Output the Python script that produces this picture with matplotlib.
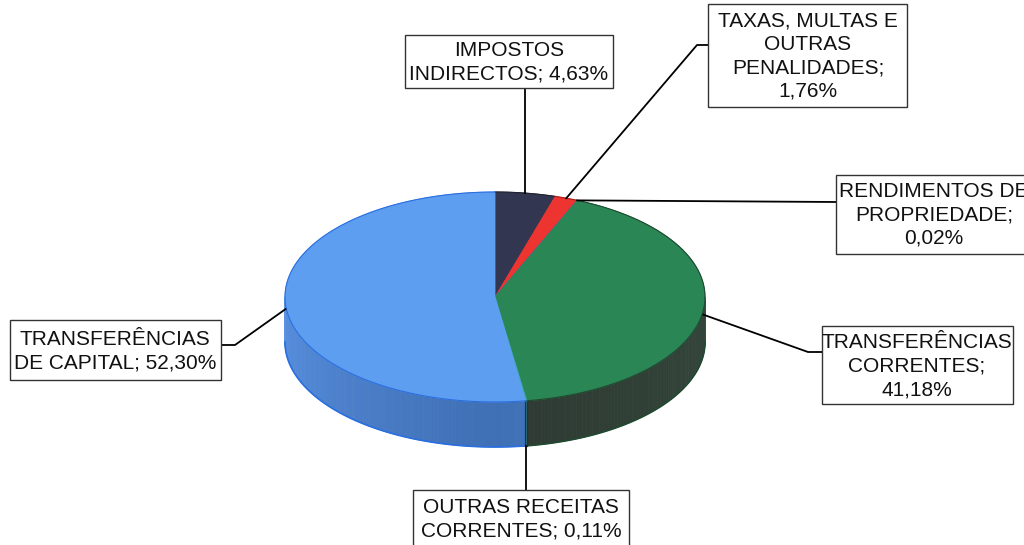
import numpy as np
import matplotlib
matplotlib.use("Agg")
import matplotlib.pyplot as plt
from matplotlib.patches import Polygon, Rectangle

# ---- data ----
categories = ["IMPOSTOS INDIRECTOS", "TAXAS, MULTAS E OUTRAS PENALIDADES",
              "RENDIMENTOS DE PROPRIEDADE", "TRANSFERÊNCIAS CORRENTES",
              "OUTRAS RECEITAS CORRENTES", "TRANSFERÊNCIAS DE CAPITAL"]
values = [4.63, 1.76, 0.02, 41.18, 0.11, 52.30]
labels = ["IMPOSTOS\nINDIRECTOS; 4,63%",
          "TAXAS, MULTAS E\nOUTRAS\nPENALIDADES;\n1,76%",
          "RENDIMENTOS DE\nPROPRIEDADE;\n0,02%",
          "TRANSFERÊNCIAS\nCORRENTES;\n41,18%",
          "OUTRAS RECEITAS\nCORRENTES; 0,11%",
          "TRANSFERÊNCIAS\nDE CAPITAL; 52,30%"]

# ---- style ----
top_colors = ["#323650", "#EE3430", "#7A4FA0", "#2A8655", "#3FA7C8", "#5E9EF0"]
side_a = ["#262838", "#A02420", "#553470", "#2E3A33", "#2C7590", "#3F6FB4"]   # front
side_b = ["#262838", "#A02420", "#553470", "#34463B", "#2C7590", "#5890E0"]   # far
edge_colors = ["#20222f", "#b02020", "#553470", "#1f4a30", "#2C7590", "#2a6fe0"]

cx, cy, rx, ry, depth = 495.0, 297.0, 210.0, 105.0, 45.0

# label boxes (x0, y0, x1, y1) and leader elbows
boxes = [(405, 35, 613, 88), (708, 4, 907, 107), (836, 175, 1045, 254),
         (822, 326, 1013, 404), (413, 490, 629, 560), (10, 320, 221, 380)]
text_centers = [(509, 62), (808, 56), (934, 215), (917, 366), (521, 519), (115, 351)]
leaders = [
    [],
    [(697, 45), (708, 45)],
    [(836, 202)],
    [(808, 352), (822, 352)],
    [],
    [(235, 345), (221, 345)],
]

fig = plt.figure(figsize=(10.24, 5.45), dpi=100)
ax = fig.add_axes([0, 0, 1, 1])
ax.set_xlim(0, 1024)
ax.set_ylim(545, 0)
ax.axis("off")


def pt(theta, dy=0.0):
    return (cx + rx * np.sin(theta), cy - ry * np.cos(theta) + dy)


fracs = np.array(values) / np.sum(values)
starts = np.concatenate([[0], np.cumsum(fracs)[:-1]]) * 2 * np.pi
ends = np.cumsum(fracs) * 2 * np.pi

# side faces (visible front half: theta in [pi/2, 3pi/2])
for i, (a0, a1) in enumerate(zip(starts, ends)):
    s, e = max(a0, np.pi / 2), min(a1, 3 * np.pi / 2)
    if e <= s:
        continue
    n = max(2, int((e - s) / np.radians(1.0)) + 1)
    th = np.linspace(s, e, n)
    ca = np.array(matplotlib.colors.to_rgb(side_a[i]))
    cb = np.array(matplotlib.colors.to_rgb(side_b[i]))
    for k in range(n - 1):
        t = abs((th[k] + th[k + 1]) / 2 - np.pi) / (np.pi / 2)
        col = ca * (1 - t) + cb * t
        p = [pt(th[k]), pt(th[k + 1]), pt(th[k + 1], depth), pt(th[k], depth)]
        ax.add_patch(Polygon(p, closed=True, facecolor=col, edgecolor=col, lw=0.6, zorder=2))
    bottom = [pt(t, depth) for t in th]
    ax.plot([b[0] for b in bottom], [b[1] for b in bottom], color=edge_colors[i], lw=1.2, zorder=3)
    for a in (a0, a1):
        if np.pi / 2 < a < 3 * np.pi / 2:
            ax.plot([pt(a)[0]] * 2, [pt(a)[1], pt(a, depth)[1]], color="#2a3030", lw=0.8, zorder=3)

# top faces
for i, (a0, a1) in enumerate(zip(starts, ends)):
    n = max(2, int((a1 - a0) / np.radians(0.5)) + 1)
    th = np.linspace(a0, a1, n)
    p = [(cx, cy)] + [pt(t) for t in th]
    ax.add_patch(Polygon(p, closed=True, facecolor=top_colors[i],
                         edgecolor=top_colors[i], lw=0.6, zorder=4))
    arc = [pt(t) for t in th]
    ax.plot([a[0] for a in arc], [a[1] for a in arc], color=edge_colors[i], lw=0.8, zorder=5)

# leaders and labels
font = dict(family=["Liberation Sans", "DejaVu Sans"], size=15)
for i in range(len(values)):
    mid = (starts[i] + ends[i]) / 2
    ax_pt = pt(mid)
    if np.pi / 2 < mid < 3 * np.pi / 2 and abs(np.cos(mid)) > 0.5:
        ax_pt = pt(mid, depth)
    elif np.pi / 2 < mid < 3 * np.pi / 2:
        ax_pt = pt(mid, depth * 0.1)
    path = [ax_pt] + leaders[i]
    if i == 0:
        path = [ax_pt, (ax_pt[0], boxes[0][3])]
    if i == 4:
        path = [ax_pt, (ax_pt[0], boxes[4][1])]
    ax.plot([q[0] for q in path], [q[1] for q in path], color="black", lw=1.3, zorder=6)
    x0, y0, x1, y1 = boxes[i]
    ax.add_patch(Rectangle((x0, y0), x1 - x0, y1 - y0, facecolor="white",
                           edgecolor="#333333", lw=1.0, zorder=7))
    tx, ty = text_centers[i]
    ax.text(tx, ty, labels[i], ha="center", va="center", multialignment="center",
            linespacing=1.3, color="#111111", zorder=8, **font)

fig.savefig("out.png", dpi=100)
